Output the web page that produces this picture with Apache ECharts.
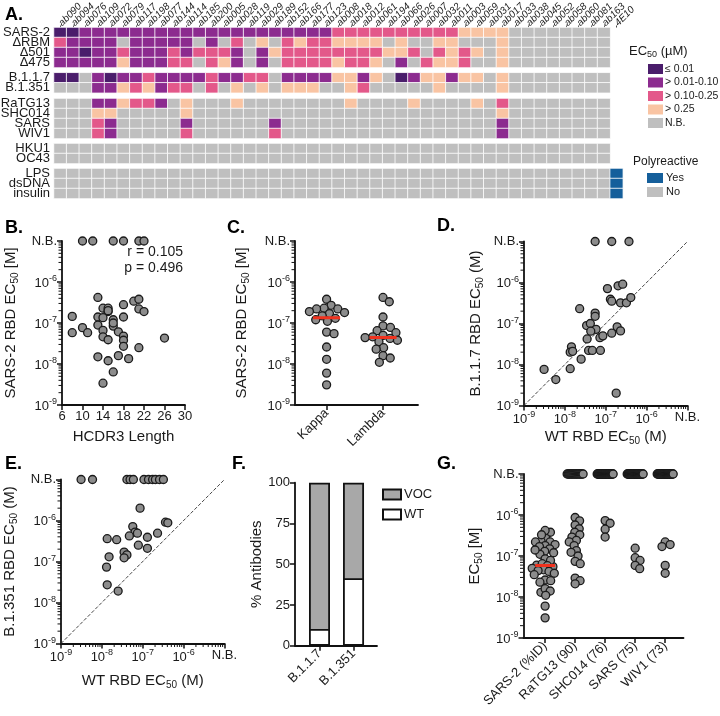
<!DOCTYPE html>
<html><head><meta charset="utf-8">
<script src="https://cdn.jsdelivr.net/npm/echarts@6/dist/echarts.min.js"></script>
<style>html,body{margin:0;padding:0;background:#fff;}#chart{width:720px;height:716px;}</style>
</head><body><div id="chart"></div>
<script>
const FONT = '"Liberation Sans", Arial, Helvetica, sans-serif';
const NB = 'N.B.';
const NBV = 1e-5;

// ================= Panel A data =================
const colNames = ['ab090','ab094','ab076','ab109','ab072','ab079','ab117','ab198','ab077','ab144',
  'ab114','ab185','ab200','ab005','ab028','ab119','ab029','ab189','ab152','ab166',
  'ab177','ab123','ab008','ab018','ab012','ab061','ab194','ab066','ab026','ab007',
  'ab032','ab011','ab003','ab059','ab031','ab017','ab033','ab038','ab045','ab052',
  'ab058','ab060','ab081','ab163','4E10'];
// codes: D = <=0.01, P = >0.01-0.10, K = >0.10-0.25, E = >0.25, G = N.B. / No, B = Yes (polyreactive)
const rowsVariants = ['SARS-2','ΔRBM','Δ501','Δ475'];
const codesVariants = [
  'DDPPP PPPPP PPPPP PPPPP PPKKK KKKKK KKEEE EGGGG GGGG',
  'KPPPP GPPPP PGPGK GEGKE KKEEE EGEGG EEGGG EGGGG GGGG',
  'PPDPP KPPPK PKKKP GPEKK KKKKK KEEKG KEKEG EGGGG GGGG',
  'PPPPP EPPPK KGKEP GPGKK KKEKK EGPGK EEKGG EGGGG GGGG'];
const rowsVOC = ['B.1.1.7','B.1.351'];
const codesVOC = [
  'DDGPD PPKPP PPKPP KKGPP PPEEP EGDPE EPEEG EGGGG GGGG',
  'GGGPP EKEPK KGKGE GEGEE EGGEK GGGGG EGGGG EGGGG GGGG'];
const rowsSarbeco = ['RaTG13','SHC014','SARS','WIV1'];
const codesSarbeco = [
  'GGGPP EKKPG EGGGE GGGGG GGGEG GGGEG GGGEG KGGGG GGGG',
  'GGGEE GGGGG EGGGG GGGGG GGGGG GGGGG GGGGG EGGGG GGGG',
  'GGGKP GGGGG PGGGG GGPGG GGGGG GGGGG GGGGG PGGGG GGGG',
  'GGGKP GGGGG KGGGG GGKGG GGGGG GGGGG GGGGG PGGGG GGGG'];
const rowsCommon = ['HKU1','OC43'];
const codesCommon = [
  'GGGGG GGGGG GGGGG GGGGG GGGGG GGGGG GGGGG GGGGG GGGG',
  'GGGGG GGGGG GGGGG GGGGG GGGGG GGGGG GGGGG GGGGG GGGG'];
const rowsPoly = ['LPS','dsDNA','insulin'];
const codesPoly = [
  'GGGGG GGGGG GGGGG GGGGG GGGGG GGGGG GGGGG GGGGG GGGGB',
  'GGGGG GGGGG GGGGG GGGGG GGGGG GGGGG GGGGG GGGGG GGGGB',
  'GGGGG GGGGG GGGGG GGGGG GGGGG GGGGG GGGGG GGGGG GGGGB'];
const ec50LegendLabels = ['≤ 0.01','> 0.01-0.10','> 0.10-0.25','> 0.25','N.B.'];
const ec50LegendCodes = ['D','P','K','E','G'];
const polyLegendLabels = ['Yes','No'];
const polyLegendCodes = ['B','G'];

// ================= Panel B data =================
const hcdr3Len  = [13,8,8,10,11,13,13,14,15,15,14,14,14,15,16,16,17,18,18,18,18,18,20,21,21,22,26,21,19,17,13,15,16,14,16,15];
const hcdr3EC50 = [4.2e-7,1.45e-7,5.8e-8,7.7e-8,5.8e-8,1.4e-7,8.9e-8,2.3e-7,2.3e-7,1.9e-7,1.35e-7,6.6e-8,4.6e-8,3.9e-8,1.2e-7,8.4e-8,6.1e-8,2.8e-7,1.4e-7,4.8e-8,3.8e-8,2.7e-8,3.4e-7,3.8e-7,2.2e-7,1.9e-7,4.3e-8,2.5e-8,1.35e-8,1.6e-8,1.5e-8,1.2e-8,6.4e-9,3.4e-9,1.0e-7,2.0e-7];
const hcdr3NB   = [10,12,16,18,21,22];
const corrText = ['r = 0.105','p = 0.496'];

// ================= Panel C data =================
const lightChains = ['Kappa','Lambda'];
const kappaEC50  = [3.8e-7,2.7e-7,2.3e-7,2.2e-7,2.2e-7,1.9e-7,1.8e-7,1.7e-7,1.5e-7,1.3e-7,1.2e-7,1.1e-7,6.0e-8,5.5e-8,2.6e-8,1.3e-8,6.0e-9,3.1e-9];
const lambdaEC50 = [4.2e-7,3.3e-7,1.4e-7,8.5e-8,7.8e-8,6.5e-8,5.8e-8,5.0e-8,4.6e-8,4.4e-8,4.2e-8,3.8e-8,3.5e-8,2.5e-8,2.3e-8,1.6e-8,1.4e-8,1.1e-8];
const lightMedians = [1.35e-7,4.4e-8];

// ================= Panel D data (WT vs B.1.1.7) =================
const wtD   = [5.5e-8,1.4e-7,3.7e-7,1.1e-7,2.0e-7,2.6e-7,1.3e-7,1.4e-7,2.3e-7,3.2e-7,4.1e-7,2.3e-8,5.5e-8,5.5e-8,3.4e-8,4.2e-8,5.8e-8,4.3e-8,3.5e-8,7.2e-8,8.5e-8,1.4e-7,1.9e-7,2.3e-7,1.45e-8,1.35e-8,1.55e-8,3.8e-8,4.7e-8,7.4e-8,2.5e-8,1.35e-8,3.1e-9,6.0e-9,1.8e-7];
const b117D = [NB,NB,NB,7.1e-7,8.3e-7,9.1e-7,3.9e-7,3.5e-7,3.2e-7,3.2e-7,4.3e-7,2.3e-7,1.8e-7,1.5e-7,8.9e-8,1.0e-7,7.2e-8,6.5e-8,4.2e-8,4.5e-8,5.0e-8,5.8e-8,8.3e-8,6.6e-8,2.7e-8,2.0e-8,2.1e-8,2.2e-8,2.2e-8,2.2e-8,1.35e-8,7.9e-9,7.6e-9,4.3e-9,2.0e-9];

// ================= Panel E data (WT vs B.1.351) =================
const wtE    = [3.1e-9,5.9e-9,4.1e-8,4.9e-8,5.9e-8,1.07e-7,1.38e-7,1.74e-7,2.04e-7,2.57e-7,3.2e-7,8.6e-8,5.7e-8,6.5e-8,4.7e-8,7.4e-8,1.3e-7,2.3e-7,3.6e-7,4.1e-7,1.35e-8,2.3e-8,7.8e-8,1.3e-7,3.5e-8,4.1e-8,3.5e-8,1.5e-8,1.3e-8,1.35e-8,2.5e-8];
const b1351E = [NB,NB,NB,NB,NB,NB,NB,NB,NB,NB,NB,2.0e-6,7.1e-7,5.2e-7,4.2e-7,4.9e-7,3.9e-7,4.9e-7,9.1e-7,8.8e-7,3.6e-7,3.4e-7,2.5e-7,2.1e-7,1.7e-7,1.45e-7,1.23e-7,1.3e-7,7.3e-8,2.7e-8,1.9e-8];

// ================= Panel F data =================
const fVariants = ['B.1.1.7','B.1.351'];
const fWT  = [10.3,41.4];
const fVOC = [89.7,58.6];

// ================= Panel G data =================
const gNames = ['SARS-2 (%ID)','RaTG13 (90)','SHC014 (76)','SARS (75)','WIV1 (73)'];
const gSars2  = kappaEC50.concat(lambdaEC50);
const gRaTG13 = [8.7e-7,7.2e-7,5.7e-7,4.6e-7,3.8e-7,3.3e-7,2.9e-7,2.4e-7,2.2e-7,1.8e-7,1.35e-7,1.23e-7,1.0e-7,7.4e-8,6.5e-8,2.9e-8,2.5e-8,2.1e-8];
const gSHC014 = [7.3e-7,6.3e-7,4.5e-7,2.9e-7];
const gSARS   = [1.55e-7,9.1e-8,7.8e-8,5.9e-8,4.9e-8];
const gWIV1   = [2.2e-7,1.9e-7,1.7e-7,5.9e-8,3.8e-8];
const gNBcounts = [0,18,32,31,31];
const gMedianSars2 = 5.9e-8;

// ================= styling helpers =================
const codeIndex = {G:0,E:1,K:2,P:3,D:4,B:5};
const codeColors = ['#bfbfbf','#f9c4a3','#e3588a','#8c2b8f','#4a1d6b','#155f9b'];
const TXT = '#1a1a1a';
const AX_LINE = {show:true, onZero:false, lineStyle:{color:'#111', width:1.8}};
const AX_TICK = {show:true, length:5, inside:false, lineStyle:{color:'#111', width:1.5}};
const supRich = {
  b:{fontSize:13, color:TXT, fontFamily:FONT, verticalAlign:'bottom'},
  s:{fontSize:9, color:TXT, fontFamily:FONT, verticalAlign:'bottom', padding:[0,0,6,0]}
};
function logFmt(v){ const e = Math.round(Math.log10(v)); return e >= -5 ? '{b|N.B.}' : '{b|10}{s|' + e + '}'; }
const nameRich = {
  n:{fontSize:15, color:TXT, fontFamily:FONT, verticalAlign:'top'},
  s:{fontSize:10, color:TXT, fontFamily:FONT, verticalAlign:'top', padding:[7,0,0,0]}
};
function ecName(pre, post){ return '{n|' + pre + '}{s|50}{n|' + post + '}'; }
// log-spaced minor tick positions (2..9 x 10^n)
const MINOR_VALUES = [];
for (let e = -9; e < -5; e++) for (let k = 2; k <= 9; k++) MINOR_VALUES.push(k * Math.pow(10, e));
const nbv = v => v === NB ? NBV : v;

const option = {animation:false, textStyle:{fontFamily:FONT}, grid:[], xAxis:[], yAxis:[], series:[], graphic:[]};
const addGrid = g => (option.grid.push(Object.assign({outerBoundsMode:'none', containLabel:false, show:false}, g)), option.grid.length - 1);
const addX = a => (option.xAxis.push(a), option.xAxis.length - 1);
const addY = a => (option.yAxis.push(a), option.yAxis.length - 1);

function logAxis(grid, extra){
  return Object.assign({type:'log', logBase:10, min:1e-9, max:1e-5, gridIndex:grid,
    axisLine:AX_LINE, axisTick:AX_TICK, splitLine:{show:false},
    axisLabel:{formatter:logFmt, rich:supRich, margin:5},
    nameTextStyle:{rich:nameRich, fontSize:15}, nameLocation:'middle'}, extra);
}
// minor ticks drawn through the axes' own coordinate mapping
function minorTicks(xi, yi, dir, anchor){
  const data = MINOR_VALUES.map(v => dir === 'y' ? [anchor, v] : [v, anchor]);
  return {type:'custom', xAxisIndex:xi, yAxisIndex:yi, silent:true, clip:false, z:6, data,
    renderItem:(params, api) => {
      const p = api.coord([api.value(0), api.value(1)]);
      const shape = dir === 'y' ? {x1:p[0] - 3.5, y1:p[1], x2:p[0], y2:p[1]} : {x1:p[0], y1:p[1], x2:p[0], y2:p[1] + 3.5};
      return {type:'line', shape, style:{stroke:'#111', lineWidth:1}};
    }};
}
function scatterSeries(xi, yi, data, extra){
  return Object.assign({type:'scatter', xAxisIndex:xi, yAxisIndex:yi, data, symbol:'circle', symbolSize:8, clip:false,
    itemStyle:{color:'#8c8c8c', borderColor:'#1a1a1a', borderWidth:1.3, opacity:1}, emphasis:{disabled:true}, z:3}, extra);
}
function swarm(vals, pxPerDecade, diam){
  const pts = vals.map((v, i) => ({i, y: Math.log10(v) * pxPerDecade}));
  pts.sort((a, b) => b.y - a.y);
  const placed = [], off = new Array(vals.length).fill(0);
  for (const p of pts){
    const cands = [0];
    for (const q of placed){
      const dy = p.y - q.y;
      if (Math.abs(dy) < diam){ const dx = Math.sqrt(diam*diam - dy*dy); cands.push(q.x + dx, q.x - dx); }
    }
    cands.sort((a, b) => Math.abs(a) - Math.abs(b));
    for (const c of cands){
      if (placed.every(q => (q.x - c)**2 + (q.y - p.y)**2 >= diam*diam - 1e-6)){ p.x = c; break; }
    }
    placed.push(p); off[p.i] = p.x;
  }
  return off;
}

// ================= Panel A =================
const CELLW = 12.64, ROWH = 10;
const heatGroups = [
  {rows:rowsVariants, codes:codesVariants, top:27.5},
  {rows:rowsVOC, codes:codesVOC, top:72.8},
  {rows:rowsSarbeco, codes:codesSarbeco, top:98.5},
  {rows:rowsCommon, codes:codesCommon, top:143.5},
  {rows:rowsPoly, codes:codesPoly, top:168.5}];
const heatSeriesIdx = [];
heatGroups.forEach((g, gi) => {
  const grid = addGrid({left:54, top:g.top, width:CELLW * colNames.length, height:g.rows.length * ROWH});
  const xi = addX({type:'category', gridIndex:grid, data:colNames, position:'top',
    axisLine:{show:false}, splitLine:{show:false},
    axisTick:{show:gi === 0, length:2, alignWithLabel:true, lineStyle:{color:'#444'}},
    axisLabel:{show:gi === 0, interval:0, rotate:-45, fontStyle:'italic', fontSize:10, color:TXT, margin:3}});
  const yi = addY({type:'category', gridIndex:grid, data:g.rows, inverse:true,
    axisLine:{show:false}, axisTick:{show:false}, splitLine:{show:false},
    axisLabel:{fontSize:13, color:TXT, margin:4, interval:0}});
  const data = [];
  g.codes.forEach((s, r) => s.replace(/ /g, '').split('').forEach((ch, c) => data.push([c, r, codeIndex[ch]])));
  heatSeriesIdx.push(option.series.length);
  option.series.push({type:'heatmap', xAxisIndex:xi, yAxisIndex:yi, data,
    itemStyle:{borderColor:'#fff', borderWidth:0.8}, emphasis:{disabled:true}});
});
option.visualMap = [{type:'piecewise', show:false, dimension:2, seriesIndex:heatSeriesIdx,
  pieces:codeColors.map((c, i) => ({value:i, color:c}))}];

// legend graphics for A
option.graphic.push({type:'text', x:629, y:52, style:{text:'{a|EC}{b|50}{a| (µM)}', verticalAlign:'middle',
  rich:{a:{fontSize:13, fill:TXT, fontFamily:FONT, verticalAlign:'top'}, b:{fontSize:9, fill:TXT, fontFamily:FONT, verticalAlign:'top', padding:[6,0,0,0]}}}});
ec50LegendLabels.forEach((lab, i) => {
  const y = 64 + i * 13.5;
  option.graphic.push({type:'rect', shape:{x:648, y:y, width:15, height:10}, style:{fill:codeColors[codeIndex[ec50LegendCodes[i]]]}});
  option.graphic.push({type:'text', x:665, y:y + 5, style:{text:lab, fontSize:10.5, fontFamily:FONT, fill:TXT, verticalAlign:'middle'}});
});
option.graphic.push({type:'text', x:633, y:162, style:{text:'Polyreactive', fontSize:12, fontFamily:FONT, fill:TXT, verticalAlign:'middle'}});
polyLegendLabels.forEach((lab, i) => {
  const y = 173 + i * 14;
  option.graphic.push({type:'rect', shape:{x:647, y:y, width:16, height:10}, style:{fill:codeColors[codeIndex[polyLegendCodes[i]]]}});
  option.graphic.push({type:'text', x:666, y:y + 5, style:{text:lab, fontSize:11, fontFamily:FONT, fill:TXT, verticalAlign:'middle'}});
});

// ================= Panel B =================
{
  const grid = addGrid({left:62, top:241, width:123, height:164});
  const xi = addX({type:'value', gridIndex:grid, min:6, max:30, interval:4, axisLine:AX_LINE, axisTick:AX_TICK,
    splitLine:{show:false}, axisLabel:{fontSize:13, color:TXT, margin:5},
    name:'HCDR3 Length', nameLocation:'middle', nameGap:24, nameTextStyle:{fontSize:15, color:TXT}});
  const yi = addY(logAxis(grid, {name:ecName('SARS-2 RBD EC',' [M]'), nameGap:42}));
  option.series.push(minorTicks(xi, yi, 'y', 6));
  const data = hcdr3Len.map((l, i) => [l, hcdr3EC50[i]]).concat(hcdr3NB.map(l => [l, NBV]));
  option.series.push(scatterSeries(xi, yi, data, {markLine:{silent:true, symbol:'none', label:{show:false},
    lineStyle:{type:'dashed', color:'#333', width:1}, data:[{yAxis:NBV}]}}));
  corrText.forEach((t, i) => option.graphic.push({type:'text', x:183, y:252 + i * 16,
    style:{text:t, align:'right', verticalAlign:'middle', fontSize:14, fontFamily:FONT, fill:TXT}}));
}

// ================= Panel C =================
{
  const grid = addGrid({left:295, top:241, width:123, height:164});
  const xmin = -0.56, xmax = 1.62, pxU = 123 / (xmax - xmin);
  const xi = addX({type:'value', gridIndex:grid, min:xmin, max:xmax, axisLine:AX_LINE,
    axisTick:Object.assign({}, AX_TICK, {customValues:[0,1]}), splitLine:{show:false},
    axisLabel:{customValues:[0,1], formatter:v => lightChains[Math.round(v)], rotate:45, fontSize:13, color:TXT, margin:6}});
  const yi = addY(logAxis(grid, {name:ecName('SARS-2 RBD EC',' [M]'), nameGap:44}));
  option.series.push(minorTicks(xi, yi, 'y', xmin));
  const sets = [kappaEC50, lambdaEC50];
  const data = [];
  sets.forEach((vals, c) => { const off = swarm(vals, 41, 7.6); vals.forEach((v, i) => data.push([c + off[i] / pxU, v])); });
  option.series.push(scatterSeries(xi, yi, data, {markLine:{silent:true, symbol:'none', label:{show:false},
    lineStyle:{type:'dashed', color:'#333', width:1}, data:[{yAxis:NBV}]}}));
  lightMedians.forEach((m, c) => option.series.push({type:'line', xAxisIndex:xi, yAxisIndex:yi, symbol:'none', silent:true, z:5,
    data:[[c - 0.24, m], [c + 0.24, m]], lineStyle:{color:'#f0321e', width:3}}));
}

// ================= Panel D =================
{
  const grid = addGrid({left:524, top:241.5, width:163.5, height:164});
  const xi = addX(logAxis(grid, {name:ecName('WT RBD EC',' (M)'), nameGap:24}));
  const yi = addY(logAxis(grid, {name:ecName('B.1.1.7 RBD EC',' (M)'), nameGap:39}));
  option.series.push(minorTicks(xi, yi, 'y', 1e-9), minorTicks(xi, yi, 'x', 1e-9));
  option.series.push({type:'line', xAxisIndex:xi, yAxisIndex:yi, symbol:'none', silent:true, z:2,
    data:[[1e-9,1e-9],[NBV,NBV]], lineStyle:{type:'dashed', color:'#333', width:0.9}});
  option.series.push(scatterSeries(xi, yi, wtD.map((w, i) => [w, nbv(b117D[i])])));
}

// ================= Panel E =================
{
  const grid = addGrid({left:61, top:479.5, width:163.5, height:164});
  const xi = addX(logAxis(grid, {name:ecName('WT RBD EC',' (M)'), nameGap:30}));
  const yi = addY(logAxis(grid, {name:ecName('B.1.351 RBD EC',' (M)'), nameGap:42}));
  option.series.push(minorTicks(xi, yi, 'y', 1e-9), minorTicks(xi, yi, 'x', 1e-9));
  option.series.push({type:'line', xAxisIndex:xi, yAxisIndex:yi, symbol:'none', silent:true, z:2,
    data:[[1e-9,1e-9],[NBV,NBV]], lineStyle:{type:'dashed', color:'#333', width:0.9}});
  option.series.push(scatterSeries(xi, yi, wtE.map((w, i) => [w, nbv(b1351E[i])])));
}

// ================= Panel F =================
{
  const grid = addGrid({left:295, top:482.7, width:82, height:163});
  const xi = addX({type:'value', gridIndex:grid, min:-0.72, max:1.69, axisLine:AX_LINE,
    axisTick:Object.assign({}, AX_TICK, {customValues:[0,1]}), splitLine:{show:false},
    axisLabel:{customValues:[0,1], formatter:v => fVariants[Math.round(v)], rotate:45, fontSize:13, color:TXT, margin:6}});
  const yi = addY({type:'value', gridIndex:grid, min:0, max:100, interval:25, axisLine:AX_LINE, axisTick:AX_TICK,
    splitLine:{show:false}, axisLabel:{fontSize:13, color:TXT, margin:5},
    name:'% Antibodies', nameLocation:'middle', nameGap:31, nameTextStyle:{fontSize:15, color:TXT}});
  // VOC segment sits on top of WT: its bar spans WT..WT+VOC, drawn as a full bar behind the WT bar
  option.series.push({type:'bar', name:'VOC', xAxisIndex:xi, yAxisIndex:yi, barWidth:21, barGap:'-100%',
    data:fVOC.map((v, i) => [i, fWT[i] + v]), itemStyle:{color:'#a8a8a8', borderColor:'#111', borderWidth:1.8}, emphasis:{disabled:true}});
  option.series.push({type:'bar', name:'WT', xAxisIndex:xi, yAxisIndex:yi, barWidth:21, barGap:'-100%',
    data:fWT.map((v, i) => [i, v]), itemStyle:{color:'#ffffff', borderColor:'#111', borderWidth:1.8}, emphasis:{disabled:true}});
  option.legend = [{data:['VOC','WT'], orient:'vertical', left:377, top:483, itemWidth:18, itemHeight:10, itemGap:7,
    icon:'rect', selectedMode:false, textStyle:{fontSize:13, color:TXT, padding:[0,0,0,-2]}}];
}

// ================= Panel G =================
{
  const grid = addGrid({left:523.5, top:474, width:160, height:164});
  const xmin = -0.72, xmax = 4.61, pxU = 160 / (xmax - xmin);
  const xi = addX({type:'value', gridIndex:grid, min:xmin, max:xmax, axisLine:AX_LINE,
    axisTick:Object.assign({}, AX_TICK, {customValues:[0,1,2,3,4]}), splitLine:{show:false},
    axisLabel:{customValues:[0,1,2,3,4], formatter:v => gNames[Math.round(v)], rotate:45, fontSize:13, color:TXT, margin:6}});
  const yi = addY(logAxis(grid, {name:ecName('EC',' [M]'), nameGap:39}));
  option.series.push(minorTicks(xi, yi, 'y', xmin));
  const sets = [gSars2, gRaTG13, gSHC014, gSARS, gWIV1];
  const data = [];
  sets.forEach((vals, c) => {
    const off = swarm(vals, 41, 5.6);
    vals.forEach((v, i) => data.push([c + off[i] / pxU, v]));
    const n = gNBcounts[c];
    for (let k = 0; k < n; k++) data.push([c + (n > 1 ? (-8 + 16 * k / (n - 1)) : 0) / pxU, NBV]);
  });
  option.series.push(scatterSeries(xi, yi, data, {markLine:{silent:true, symbol:'none', label:{show:false},
    lineStyle:{type:'dotted', color:'#222', width:1.5}, data:[{yAxis:NBV}]}}));
  option.series.push({type:'line', xAxisIndex:xi, yAxisIndex:yi, symbol:'none', silent:true, z:5,
    data:[[-0.33, gMedianSars2], [0.33, gMedianSars2]], lineStyle:{color:'#f0321e', width:3}});
}

// ================= panel letters =================
[['A.',5,6],['B.',5,219],['C.',227,219],['D.',437,217],['E.',5,455],['F.',232,455],['G.',437,455]].forEach(p =>
  option.graphic.push({type:'text', x:p[1], y:p[2], style:{text:p[0], fontSize:18, fontWeight:'bold', fontFamily:FONT, fill:'#000'}}));

const chart = echarts.init(document.getElementById('chart'), null, {renderer:'canvas'});
chart.setOption(option);
</script></body></html>
